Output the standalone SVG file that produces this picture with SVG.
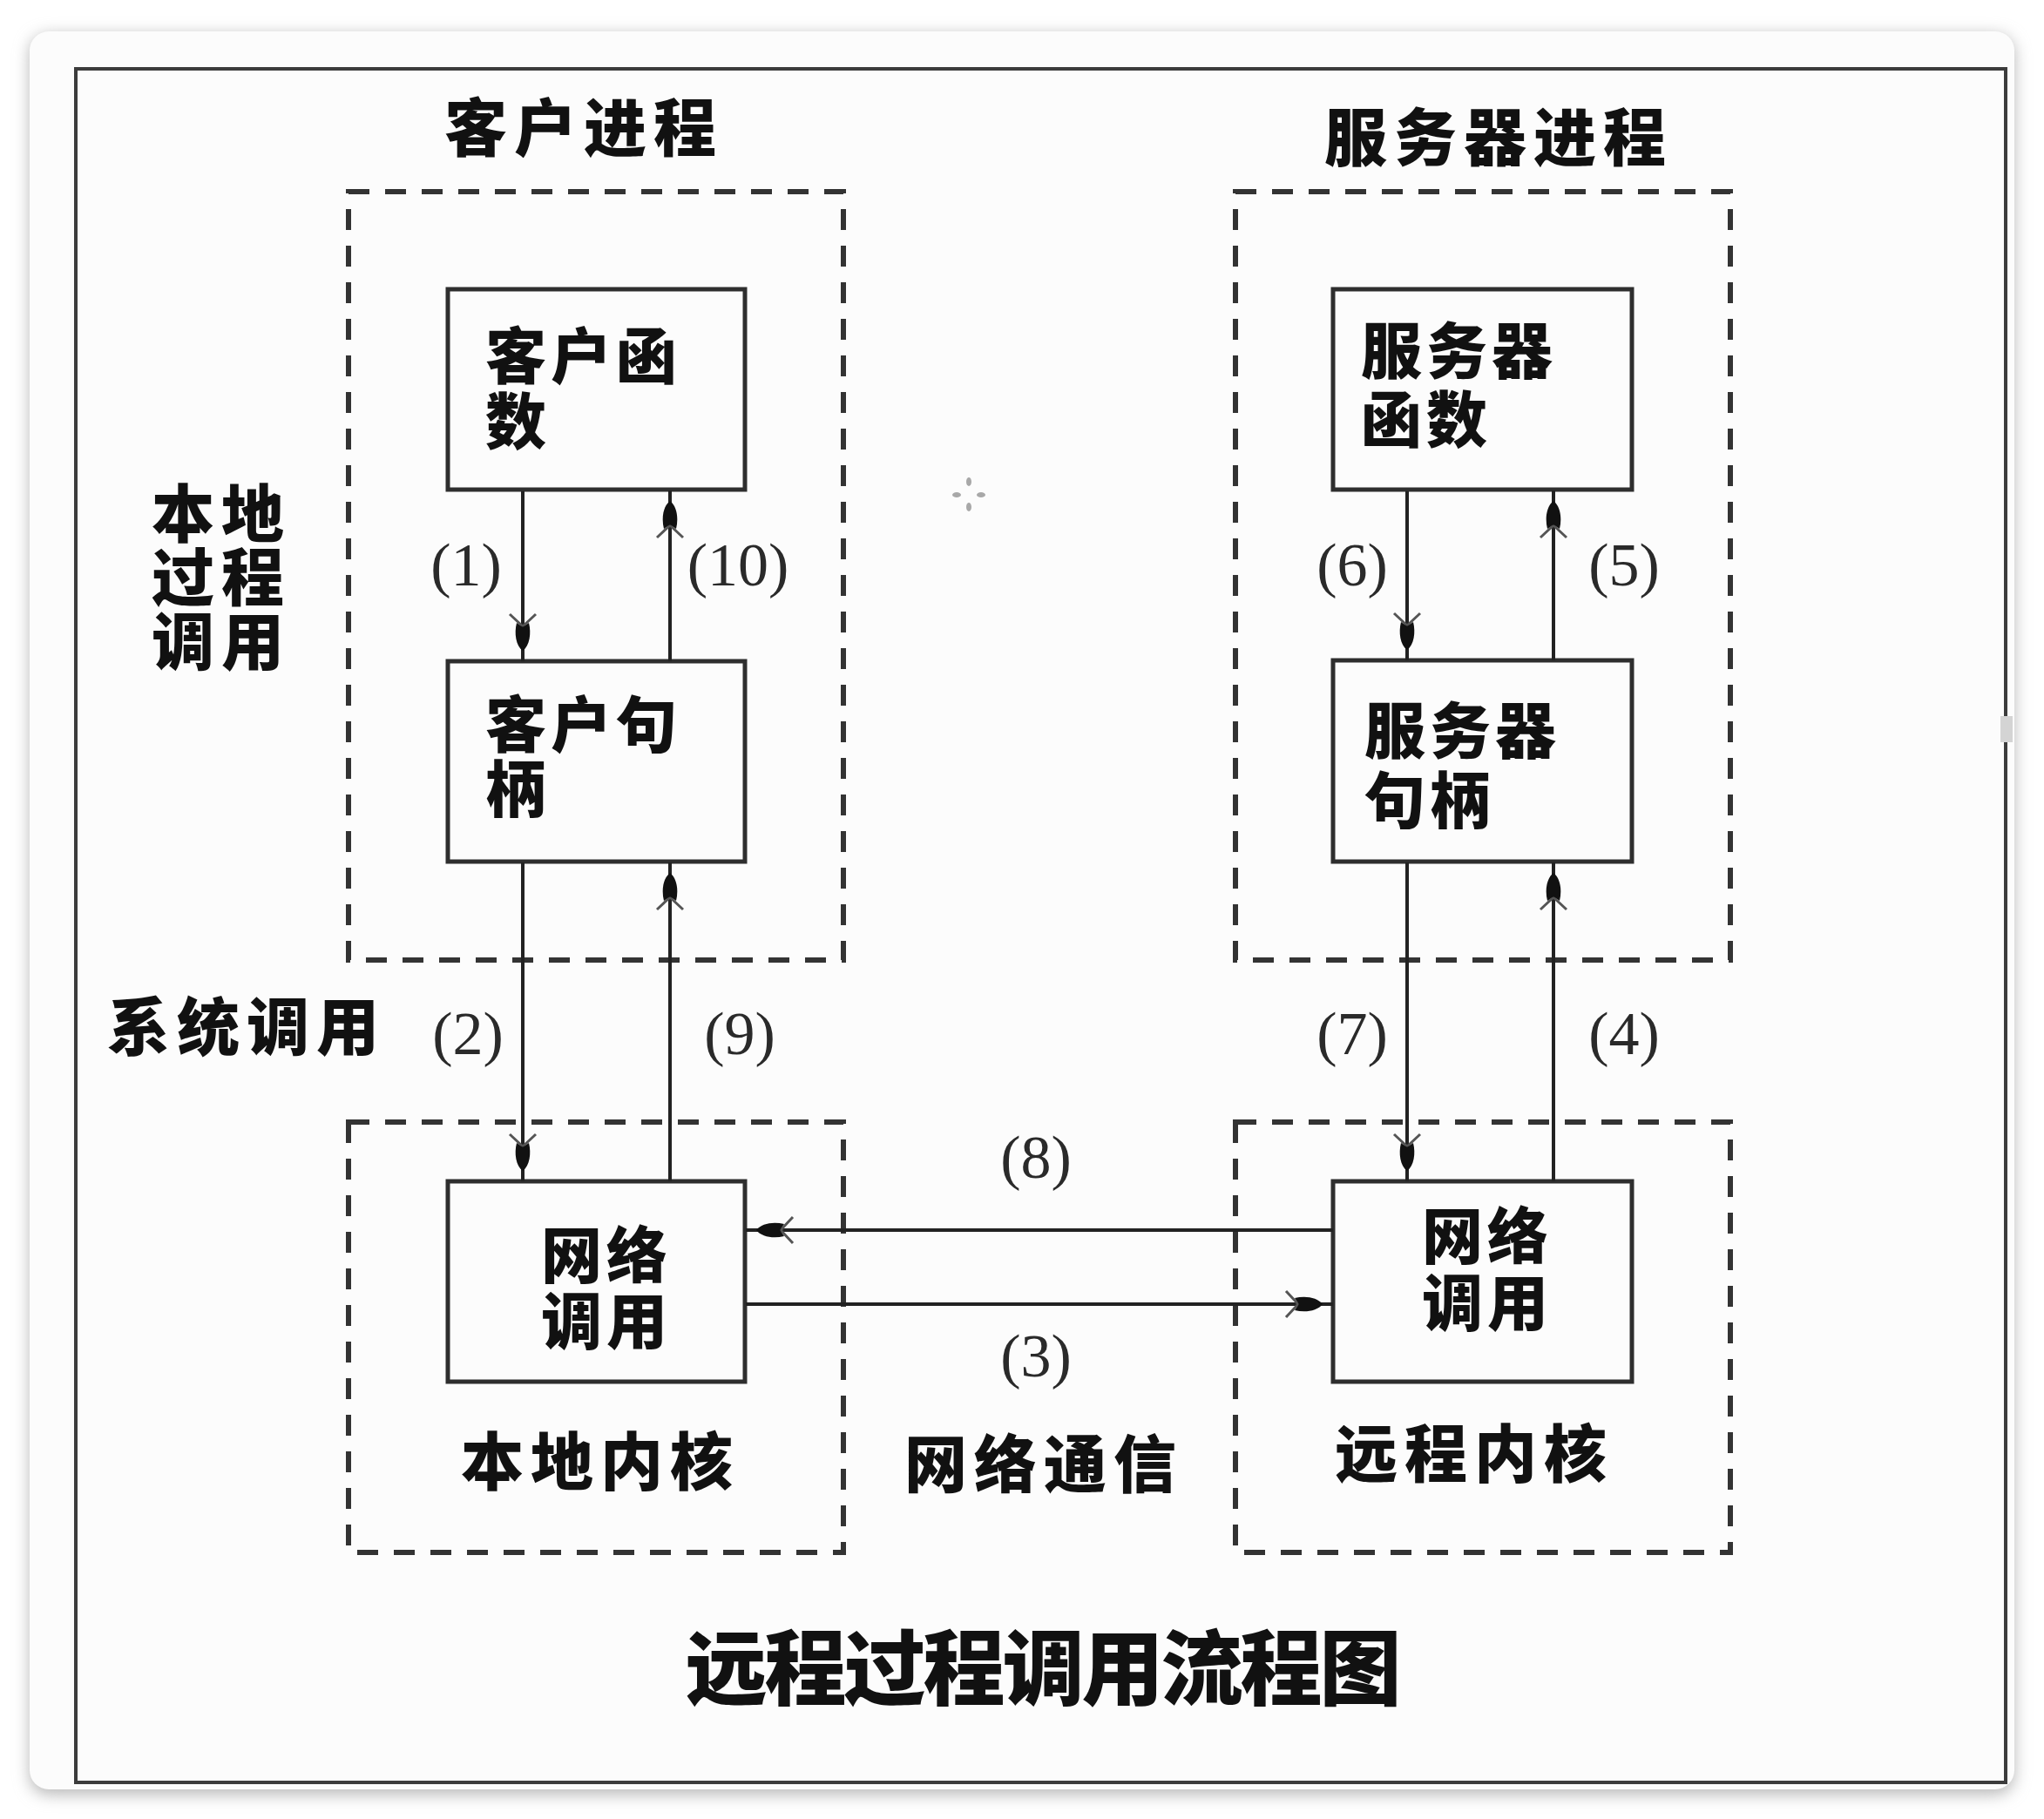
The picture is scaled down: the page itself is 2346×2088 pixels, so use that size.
<svg xmlns="http://www.w3.org/2000/svg" width="2346" height="2088" viewBox="0 0 2346 2088">
  <style>
    .cjk { font-family: "Noto Sans CJK SC", "Noto Sans", sans-serif; font-weight: 900; fill: #111; }
    .num { font-family: "Liberation Serif", "DejaVu Serif", serif; font-size: 70px; fill: #2a2a2a; text-anchor: middle; }
    .box { fill: none; stroke: #2e2e2e; stroke-width: 5; }
    .group { fill: none; stroke: #333; stroke-width: 6; stroke-dasharray: 24 18; }
    .link { fill: none; stroke: #222; stroke-width: 4; marker-end: url(#head); }
    .label { font-size: 72px; letter-spacing: 8px; text-anchor: middle; }
    .inbox { font-size: 70px; letter-spacing: 5px; }
  </style>
  <defs>
    <filter id="shadow" x="-5%" y="-5%" width="110%" height="110%">
      <feGaussianBlur stdDeviation="9"/>
    </filter>
    <marker id="head" markerUnits="userSpaceOnUse" viewBox="-46 -18 48 36" markerWidth="48" markerHeight="36" refX="12" refY="0" orient="auto">
      <path d="M-28,0 L-42,-15 M-28,0 L-42,15" stroke="#555" stroke-width="3" fill="none"/>
      <path d="M0,0 C-6,-8 -20,-10 -32,-7 L-27,0 L-32,7 C-20,10 -6,8 0,0 Z" fill="#111"/>
    </marker>
  </defs>

  <!-- page and card -->
  <rect width="2346" height="2088" fill="#ffffff"/>
  <rect x="34" y="40" width="2278" height="2020" rx="22" fill="#b8b8b8" filter="url(#shadow)"/>
  <rect x="34" y="36" width="2278" height="2018" rx="22" fill="#fcfcfc"/>
  <rect x="87" y="79" width="2215" height="1967" fill="none" stroke="#3c3c3c" stroke-width="4"/>

  <!-- group frames -->
  <g id="client-process">
    <rect class="group" x="400" y="220" width="568" height="882"/>
    <text class="cjk label" x="670" y="173">客户进程</text>
  </g>
  <g id="local-kernel">
    <rect class="group" x="400" y="1288" width="568" height="494"/>
    <text class="cjk label" x="689" y="1704">本地内核</text>
  </g>
  <g id="server-process">
    <rect class="group" x="1418" y="220" width="568" height="882"/>
    <text class="cjk label" x="1720" y="184">服务器进程</text>
  </g>
  <g id="remote-kernel">
    <rect class="group" x="1418" y="1288" width="568" height="494"/>
    <text class="cjk label" x="1692" y="1695">远程内核</text>
  </g>

  <!-- side annotations -->
  <g id="local-call-label">
    <text class="cjk label"><tspan x="254" y="616">本地</tspan><tspan x="254" y="689">过程</tspan><tspan x="254" y="763">调用</tspan></text>
  </g>
  <g id="syscall-label">
    <text class="cjk label" x="283" y="1205">系统调用</text>
  </g>
  <g id="network-label">
    <text class="cjk label" x="1198" y="1707">网络通信</text>
  </g>

  <!-- client side -->
  <g id="client-function">
    <rect class="box" x="514" y="332" width="341" height="230"/>
    <text class="cjk inbox"><tspan x="557" y="435">客户函</tspan><tspan x="557" y="510">数</tspan></text>
  </g>
  <g id="client-stub">
    <rect class="box" x="514" y="759" width="341" height="230"/>
    <text class="cjk inbox"><tspan x="557" y="858">客户句</tspan><tspan x="557" y="932">柄</tspan></text>
  </g>
  <g id="client-net">
    <rect class="box" x="514" y="1356" width="341" height="230"/>
    <text class="cjk inbox" text-anchor="middle"><tspan x="696" y="1467">网络</tspan><tspan x="696" y="1543">调用</tspan></text>
  </g>

  <!-- server side -->
  <g id="server-function">
    <rect class="box" x="1530" y="332" width="343" height="230"/>
    <text class="cjk inbox"><tspan x="1562" y="429">服务器</tspan><tspan x="1562" y="508">函数</tspan></text>
  </g>
  <g id="server-stub">
    <rect class="box" x="1530" y="758" width="343" height="231"/>
    <text class="cjk inbox"><tspan x="1566" y="865">服务器</tspan><tspan x="1566" y="945">句柄</tspan></text>
  </g>
  <g id="server-net">
    <rect class="box" x="1530" y="1356" width="343" height="230"/>
    <text class="cjk inbox" text-anchor="middle"><tspan x="1707" y="1445">网络</tspan><tspan x="1707" y="1522">调用</tspan></text>
  </g>

  <!-- call flow -->
  <g id="connectors">
    <line class="link" x1="600" y1="564" x2="600" y2="759"/>
    <line class="link" x1="769" y1="759" x2="769" y2="563"/>
    <line class="link" x1="600" y1="990" x2="600" y2="1356"/>
    <line class="link" x1="769" y1="1356" x2="769" y2="990"/>
    <line class="link" x1="856" y1="1497" x2="1530" y2="1497"/>
    <line class="link" x1="1783" y1="1356" x2="1783" y2="990"/>
    <line class="link" x1="1783" y1="758" x2="1783" y2="563"/>
    <line class="link" x1="1615" y1="564" x2="1615" y2="758"/>
    <line class="link" x1="1615" y1="990" x2="1615" y2="1356"/>
    <line class="link" x1="1530" y1="1412" x2="856" y2="1412"/>
  </g>

  <!-- step numbers -->
  <g id="step-labels">
    <text class="num" x="535" y="672">(1)</text>
    <text class="num" x="847" y="672">(10)</text>
    <text class="num" x="537" y="1210">(2)</text>
    <text class="num" x="849" y="1210">(9)</text>
    <text class="num" x="1189" y="1580">(3)</text>
    <text class="num" x="1864" y="1210">(4)</text>
    <text class="num" x="1864" y="672">(5)</text>
    <text class="num" x="1552" y="672">(6)</text>
    <text class="num" x="1552" y="1210">(7)</text>
    <text class="num" x="1189" y="1352">(8)</text>
  </g>

  <!-- caption -->
  <text class="cjk" x="1196" y="1950" font-size="94" letter-spacing="-3" text-anchor="middle">远程过程调用流程图</text>

  <!-- small cursor mark -->
  <g id="cursor" fill="#a8a8a8">
    <ellipse cx="1112" cy="553" rx="3" ry="5"/>
    <ellipse cx="1112" cy="582" rx="3" ry="5"/>
    <ellipse cx="1098" cy="568" rx="5" ry="3"/>
    <ellipse cx="1126" cy="568" rx="5" ry="3"/>
  </g>
  <rect x="2296" y="822" width="14" height="30" fill="#d4d4d4"/>
</svg>
